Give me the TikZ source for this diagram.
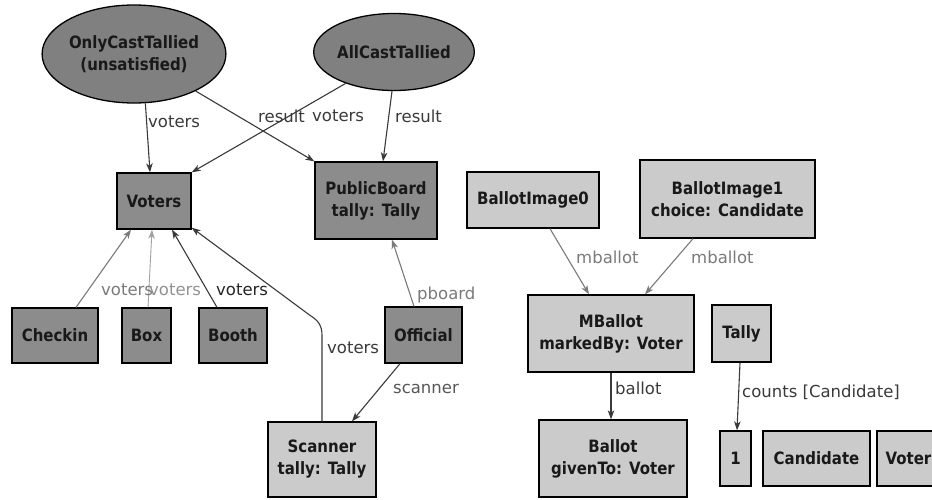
\documentclass[tikz,border=0pt]{standalone}
\usepackage{fontspec}
\setmainfont{DejaVu Sans}
\newfontfamily\sigfont[FakeStretch=0.88]{DejaVu Sans}
\usetikzlibrary{shapes.geometric,arrows.meta,calc}

\definecolor{darkfill}{HTML}{8C8C8C}
\definecolor{ovalfill}{HTML}{808080}
\definecolor{lightfill}{HTML}{CBCBCB}
\definecolor{darkedge}{HTML}{3A3A3A}
\definecolor{midedge}{HTML}{7A7A7A}
\definecolor{paleedge}{HTML}{A2A2A2}

\tikzset{
  base/.style={draw=black, line width=1.3pt, inner sep=0pt, align=center,
    font=\sigfont\fontsize{17}{22}\selectfont\bfseries, text=black!90},
  pred/.style={base, ellipse, fill=ovalfill},
  sigdark/.style={base, rectangle, fill=darkfill},
  siglight/.style={base, rectangle, fill=lightfill},
  rel/.style={line width=1.1pt, -{Stealth[length=9pt,width=6.5pt,inset=2.5pt]}},
  reldark/.style={rel, draw=darkedge},
  relmid/.style={rel, draw=midedge},
  relpale/.style={rel, draw=paleedge, line width=0.9pt},
  lbl/.style={anchor=west, inner sep=0pt, font=\fontsize{16.5}{18}\selectfont},
}

\begin{document}
\begin{tikzpicture}[x=1pt, y=-1pt]
\useasboundingbox (0,0) rectangle (932,499);
\clip (0,0) rectangle (932,499);
\fill[white] (0,0) rectangle (932,499);

% predicates
\node[pred, minimum width=176pt, minimum height=98pt] (oct) at (134,54) {OnlyCastTallied\\(unsatisfied)};
\node[pred, minimum width=154pt, minimum height=77pt] (act) at (394,52) {AllCastTallied};

% signatures of the voting system
\node[sigdark, minimum width=74pt, minimum height=56pt] (voters) at (154,201) {Voters};
\node[sigdark, minimum width=122pt, minimum height=77pt] (pb) at (376,200.5) {PublicBoard\\tally: Tally};
\node[sigdark, minimum width=86pt, minimum height=55pt] (checkin) at (55,335.5) {Checkin};
\node[sigdark, minimum width=49pt, minimum height=55pt] (box) at (146.5,335.5) {Box};
\node[sigdark, minimum width=68pt, minimum height=55pt] (booth) at (233,335.5) {Booth};
\node[sigdark, minimum width=77pt, minimum height=56pt] (official) at (423.5,335) {Official};
\node[siglight, minimum width=108pt, minimum height=75pt] (scanner) at (322,459.5) {Scanner\\tally: Tally};

% ballots and tallies
\node[siglight, minimum width=132pt, minimum height=56pt] (bi0) at (533,200) {BallotImage0};
\node[siglight, minimum width=175pt, minimum height=78pt] (bi1) at (727.5,199) {BallotImage1\\choice: Candidate};
\node[siglight, minimum width=166pt, minimum height=77pt] (mballot) at (611,333.5) {MBallot\\markedBy: Voter};
\node[siglight, minimum width=59pt, minimum height=57pt] (tally) at (741.5,333.5) {Tally};
\node[siglight, minimum width=148pt, minimum height=77pt] (ballot) at (613,458.5) {Ballot\\givenTo: Voter};
\node[siglight, minimum width=31pt, minimum height=55pt] (one) at (735.5,458.5) {1};
\node[siglight, minimum width=107pt, minimum height=55pt] (cand) at (816.5,458.5) {Candidate};
\node[siglight, minimum width=63pt, minimum height=55pt] (voter) at (908.5,458.5) {Voter};

% relations
\draw[reldark] (oct.-77) -- ([xshift=-4pt]voters.north);
\draw[reldark] (oct.-31) -- (pb.north west);
\draw[reldark] (act.-147) -- (voters.north east);
\draw[reldark] ([xshift=-2pt]act.south) -- ([xshift=7pt]pb.north);
\draw[relmid] ([xshift=21pt]checkin.north) -- ([xshift=-23pt]voters.south);
\draw[relpale] ([xshift=1.5pt]box.north) -- ([xshift=-2pt]voters.south);
\draw[reldark] ([xshift=-16pt]booth.north) -- ([xshift=18pt]voters.south);
\draw[reldark] (scanner.north) -- ++(0,-86) .. controls ++(0,-10) and ++(8,5) .. ++(-12,-20) -- ([yshift=2pt]voters.south east);
\draw[relmid] ([xshift=-9.5pt]official.north) -- ([xshift=16pt]pb.south);
\draw[reldark] ([xshift=-23.5pt]official.south) -- ([xshift=30pt]scanner.north);
\draw[relmid] ([xshift=17pt]bi0.south) -- ([xshift=-22pt]mballot.north);
\draw[relmid] ([xshift=-34.5pt]bi1.south) -- ([xshift=34pt]mballot.north);
\draw[reldark] (mballot.south) -- (mballot.south |- ballot.north);
\draw[reldark] ([xshift=-1.5pt]tally.south) -- ([xshift=1.5pt]one.north);

% relation labels
\node[lbl, text=darkedge] (l1) at (148,122) {voters};
\node[lbl, text=darkedge] (l2) at (258,116) {result};
\node[lbl, text=darkedge] (l3) at (312,116) {voters};
\node[lbl, text=darkedge] (l4) at (395,116) {result};
\node[lbl, text=midedge] (l5) at (101,290) {voters};
\node[lbl, text=paleedge!90!black] (l6) at (149,290) {voters};
\node[lbl, text=black!85] (l7) at (216,290) {voters};
\node[lbl, text=darkedge] (l8) at (327,348) {voters};
\node[lbl, text=midedge] (l9) at (417,295) {pboard};
\node[lbl, text=darkedge!85] (l10) at (393,389) {scanner};
\node[lbl, text=midedge] (l11) at (576,257) {mballot};
\node[lbl, text=midedge] (l12) at (691,257) {mballot};
\node[lbl, text=darkedge] (l13) at (615,388) {ballot};
\node[lbl, text=darkedge] (l14) at (742,392) {counts [Candidate]};
\end{tikzpicture}
\end{document}
